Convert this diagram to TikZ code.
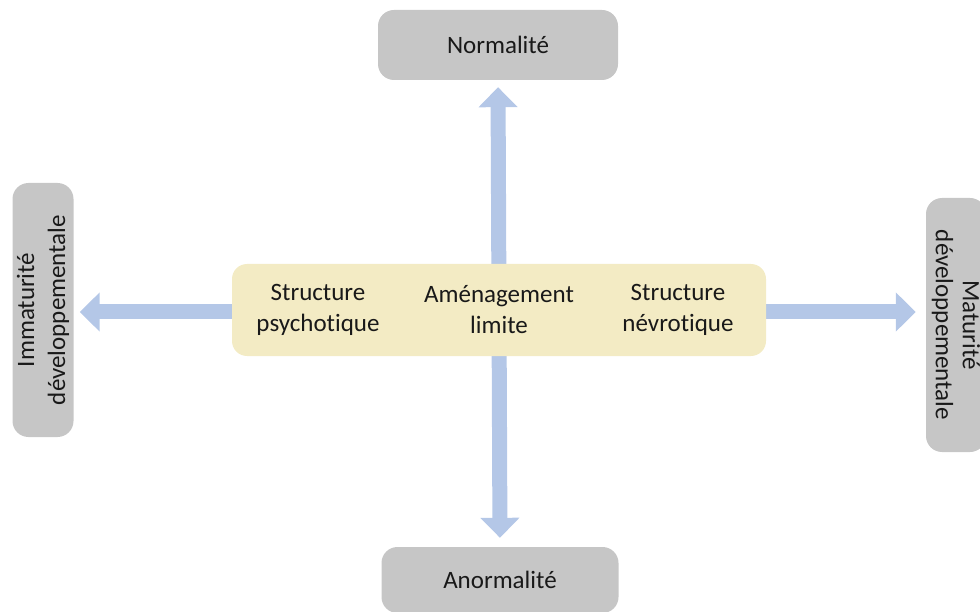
\documentclass[tikz,border=0pt]{standalone}
\usepackage{fontspec}
\setmainfont{Carlito}[Ligatures={NoCommon}]
\usetikzlibrary{arrows.meta,backgrounds}
\definecolor{grisbox}{HTML}{C6C6C6}
\definecolor{jaune}{HTML}{F3EBC4}
\definecolor{bleu}{HTML}{B4C7E7}
\tikzset{
  pole/.style={fill=grisbox,rounded corners=16pt,align=center,inner sep=0pt,text=black!90},
  fleche/.style={bleu,line width=15pt,-{Triangle[width=38pt,length=20pt]}}
}
\begin{document}
\begin{tikzpicture}[x=1pt,y=-1pt,every node/.style={font=\fontsize{25}{31}\selectfont}]
\useasboundingbox (0,0) rectangle (980,612);
% les quatre poles
\node[pole,minimum width=240pt,minimum height=70pt] (nor) at (498,45) {Normalité};
\node[pole,minimum width=237pt,minimum height=66pt] (anor) at (500,580) {Anormalité};
\node[pole,rotate=90,minimum width=254pt,minimum height=61pt] (imm) at (43,310) {Immaturité\\développementale};
\node[pole,rotate=-90,minimum width=254pt,minimum height=60pt,font=\fontsize{25}{27}\selectfont] (mat) at (956,325) {Maturité\\développementale};
% bande centrale
\node[fill=jaune,rounded corners=15pt,minimum width=534pt,minimum height=92pt] (ctr) at (499,310) {};
\foreach \x/\nom/\txt in {-181/psy/{Structure\\psychotique},0/lim/{Aménagement\\limite},179/nev/{Structure\\névrotique}}
  \node[align=center,text=black!90] (\nom) at ([xshift=\x pt]ctr.center) {\txt};
\coordinate (mid) at ([yshift=-2pt]ctr.center);
\begin{scope}[on background layer]
  \draw[fleche,shorten >=7pt] (ctr.center) -- (nor.south);
  \draw[fleche,shorten >=9pt] (ctr.center) -- (anor.north);
  \draw[fleche,shorten >=6pt] (mid) -- (mid -| imm.south);
  \draw[fleche,shorten >=10pt] (mid) -- (mid -| mat.south);
\end{scope}
\end{tikzpicture}
\end{document}
